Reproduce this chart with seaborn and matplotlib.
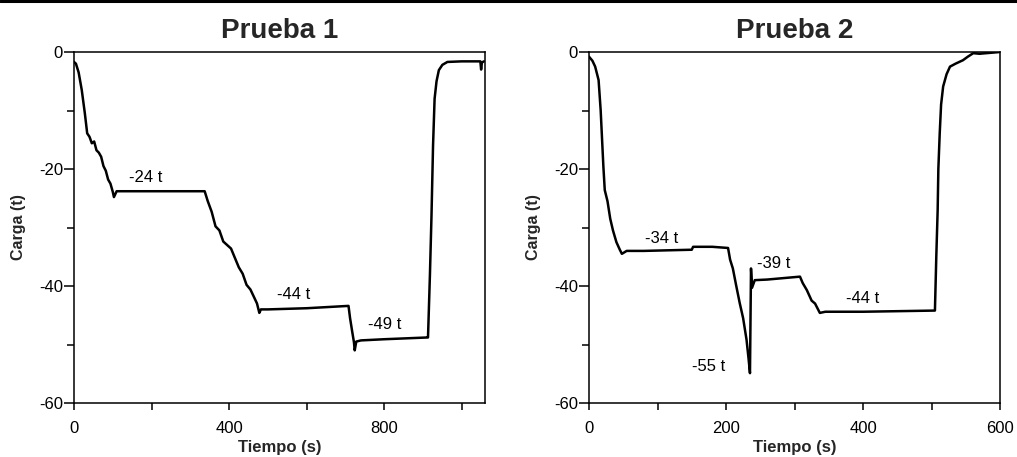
import matplotlib
matplotlib.use("Agg")
import matplotlib.pyplot as plt
import seaborn as sns
import pandas as pd
from matplotlib.lines import Line2D
from matplotlib.ticker import MultipleLocator

# ---- data ----
t1 = [0, 5, 12, 20, 28, 34, 40, 46, 52, 58, 64, 70, 76, 82, 88, 94, 100, 103, 110,
      200, 300, 337, 345, 355, 365, 375, 385, 395, 405, 415, 425, 435, 445, 455,
      465, 472, 478, 482, 500, 600, 708, 712, 718, 722, 724, 728, 740, 800, 911,
      913, 918, 922, 926, 930, 935, 941, 950, 963, 1000, 1040, 1048, 1050, 1052, 1057]
c1 = [-1.7, -2.0, -3.5, -6.5, -10.5, -13.9, -14.5, -15.6, -15.3, -16.8, -17.2, -17.9,
      -19.5, -20.3, -21.8, -22.5, -23.9, -24.8, -23.8,
      -23.8, -23.8, -23.8, -25.5, -27.3, -29.8, -30.5, -32.4, -33.0, -33.6, -35.2,
      -36.8, -37.9, -39.8, -40.6, -42.0, -43.0, -44.6, -44.0, -44.0, -43.8, -43.4,
      -45.5, -48.0, -49.6, -51.0, -49.5, -49.3, -49.1, -48.8,
      -48.8, -38.0, -28.0, -16.0, -8.0, -5.0, -3.1, -2.2, -1.7, -1.6, -1.6, -1.6,
      -3.0, -1.8, -1.6]

t2 = [0, 5, 9, 14, 17, 21, 23, 27, 31, 35, 40, 45, 48, 55, 80, 150, 152, 180, 203,
      206, 210, 215, 220, 225, 230, 233, 235, 236.5, 238, 242, 260, 308, 312, 318,
      325, 330, 337, 345, 400, 505, 507, 509, 510, 512, 514, 517, 522, 527, 535,
      546, 553, 561, 570, 580, 600]
c2 = [-0.8, -1.5, -2.5, -4.8, -9.9, -19.6, -23.6, -25.5, -28.5, -30.5, -32.5, -33.8,
      -34.5, -34.0, -34.0, -33.8, -33.3, -33.3, -33.5,
      -35.5, -37.0, -40.0, -42.9, -45.5, -49.2, -52.5, -54.9, -37.0, -40.3, -39.0,
      -38.9, -38.4, -39.5, -40.7, -42.5, -43.0, -44.6, -44.4, -44.4, -44.2, -35.0,
      -27.0, -20.0, -13.9, -9.0, -5.9, -3.8, -2.5, -2.0, -1.4, -0.8, -0.2, -0.3,
      -0.2, 0.0]

labels1 = ["-24 t", "-44 t", "-49 t"]
lx1 = [185, 566, 802]
ly1 = [-21.4, -41.5, -46.6]

labels2 = ["-34 t", "-39 t", "-44 t", "-55 t"]
lx2 = [106, 269, 400, 174]
ly2 = [-31.8, -36.1, -42.1, -53.7]

titles = ["Prueba 1", "Prueba 2"]
xmax = [1060, 600]
xmajor = [400, 200]
xminor = [200, 100]

# ---- plotting ----
sns.set_theme(style="ticks")
plt.rcParams["font.family"] = ["Liberation Sans", "DejaVu Sans"]
plt.rcParams["axes.unicode_minus"] = False

fig = plt.figure(figsize=(10.17, 4.57), dpi=100)
W, H = 1017, 457
ax1 = fig.add_axes([74 / W, (H - 403) / H, 411 / W, 351 / H])
ax2 = fig.add_axes([589 / W, (H - 403) / H, 411 / W, 351 / H])

panels = [
    (ax1, t1, c1, labels1, lx1, ly1),
    (ax2, t2, c2, labels2, lx2, ly2),
]

for i, (ax, t, c, labs, lx, ly) in enumerate(panels):
    df = pd.DataFrame({"Tiempo": t, "Carga": c})
    sns.lineplot(data=df, x="Tiempo", y="Carga", ax=ax, sort=False,
                 color="black", linewidth=1.8, estimator=None)
    for s, x, y in zip(labs, lx, ly):
        ax.text(x, y, s, ha="center", va="center", fontsize=12, color="black")
    ax.set_xlim(0, xmax[i])
    ax.set_ylim(-60, 0)
    ax.xaxis.set_major_locator(MultipleLocator(xmajor[i]))
    ax.xaxis.set_minor_locator(MultipleLocator(xminor[i]))
    ax.yaxis.set_major_locator(MultipleLocator(20))
    ax.yaxis.set_minor_locator(MultipleLocator(10))
    ax.tick_params(axis="both", which="both", direction="out", color="black",
                   width=1.1, labelsize=12, labelcolor="black")
    ax.tick_params(axis="y", which="major", length=7, pad=1)
    ax.tick_params(axis="y", which="minor", length=5)
    ax.tick_params(axis="x", which="both", length=5, pad=8)
    for sp in ax.spines.values():
        sp.set_linewidth(1.1)
        sp.set_color("black")
    ax.set_title(titles[i], fontsize=20, fontweight="bold", pad=10)
    ax.set_xlabel("Tiempo (s)", fontsize=12, fontweight="bold", labelpad=3)
    ax.set_ylabel("Carga (t)", fontsize=11.5, fontweight="bold", labelpad=9)

# page border line at top
fig.add_artist(Line2D([0, 1], [0.998, 0.998], transform=fig.transFigure,
                      color="black", linewidth=2.2))

fig.savefig("out.png", dpi=100)
